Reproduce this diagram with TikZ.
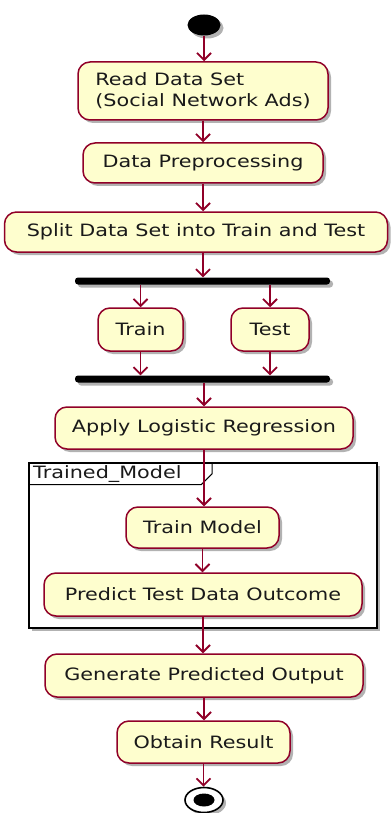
\documentclass[tikz,border=0pt]{standalone}
\usepackage{fontspec}
\setmainfont{DejaVu Sans}
\usepackage{graphicx}
\usetikzlibrary{arrows.meta,shadows,shapes.geometric}
\definecolor{umlfill}{HTML}{FEFECE}
\definecolor{umlline}{HTML}{900028}
\definecolor{umltext}{HTML}{1A1A1A}
\newcommand{\wt}[1]{\scalebox{1.22}[1]{#1}}
\begin{document}
\begin{tikzpicture}[x=1pt,y=-1pt,
  shd/.style={drop shadow={shadow xshift=3pt,shadow yshift=-3pt,opacity=0.3,fill=black}},
  act/.style={draw=umlline,fill=umlfill,line width=1.5pt,rounded corners=12pt,inner sep=0pt,
    font=\fontsize{17}{21}\selectfont,text=umltext,shd},
  bar/.style={fill=black,rectangle,minimum height=7pt,inner sep=0pt,rounded corners=3pt,shd},
  flow/.style={draw=umlline,line width=1.8pt,-{Straight Barb[length=7pt,width=14pt,line width=1.8pt]}},
  lbl/.style={font=\fontsize{17}{21}\selectfont,text=umltext,inner sep=0pt}]
\useasboundingbox (0,0) rectangle (391,813);

\node[fill=black,ellipse,minimum width=33pt,minimum height=21pt,inner sep=0pt,shd] (start) at (204,25) {};

\node[act,minimum width=250pt,minimum height=58pt,align=left] (r1) at (203,91) {\wt{Read Data Set}\\\wt{(Social Network Ads)}};
\node[act,minimum width=240pt,minimum height=40pt] (r2) at (203,163) {\wt{Data Preprocessing}};
\node[act,minimum width=383pt,minimum height=40pt] (r3) at (196,232) {\wt{Split Data Set into Train and Test}};

\node[bar,minimum width=255pt] (b1) at (202.5,281) {};
\node[act,minimum width=85pt,minimum height=43pt] (tr) at (140.5,329.5) {\wt{Train}};
\node[act,minimum width=78pt,minimum height=43pt] (te) at (270,329.5) {\wt{Test}};
\node[bar,minimum width=255pt] (b2) at (202.5,379) {};

\node[act,minimum width=298pt,minimum height=42pt] (lr) at (204,428) {\wt{Apply Logistic Regression}};

\node[draw=black,fill=white,line width=2.6pt,minimum width=348pt,minimum height=165pt,inner sep=0pt,shd] (fr) at (203,545.5) {};
\draw[line width=1pt] (fr.north west) ++(1.5,23) -- ++(172,0) -- ++(11,-11) -- ++(0,-11);
\node[lbl,anchor=west] (frl) at (33,474) {\wt{Trained\_Model}};

\node[act,minimum width=153pt,minimum height=41pt] (tm) at (202.5,527.5) {\wt{Train Model}};
\node[act,minimum width=318pt,minimum height=43pt] (pr) at (203,594.5) {\wt{Predict Test Data Outcome}};
\node[act,minimum width=318pt,minimum height=43pt] (ge) at (204,675.5) {\wt{Generate Predicted Output}};
\node[act,minimum width=173pt,minimum height=42pt] (ob) at (203.5,742) {\wt{Obtain Result}};

\node[draw=black,fill=white,line width=1.6pt,ellipse,minimum width=38pt,minimum height=25pt,inner sep=0pt,shd] (en) at (204,800) {};
\node[fill=black,ellipse,minimum width=21pt,minimum height=13pt,inner sep=0pt] (eni) at (en.center) {};

\draw[flow] (start) -- (start.south |- r1.north);
\draw[flow] (r1.south) -- (r1.south |- r2.north);
\draw[flow] (r2.south) -- (r2.south |- r3.north);
\draw[flow] (r3.south -| r2.south) -- (r2.south |- b1.north);
\draw[flow] (b1.south -| tr) -- (tr.north);
\draw[flow] (b1.south -| te) -- (te.north);
\draw[flow] (tr.south) -- (tr.south |- b2.north);
\draw[flow] (te.south) -- (te.south |- b2.north);
\draw[flow] (b2.south -| lr) -- (lr.north);
\draw[flow] (lr.south) -- (lr.south |- tm.north);
\draw[flow] (tm.south) -- (tm.south |- pr.north);
\draw[flow] (pr.south) -- (pr.south |- ge.north);
\draw[flow] (ge.south) -- (ge.south |- ob.north);
\draw[flow] (ob.south) -- (ob.south |- en.north);
\end{tikzpicture}
\end{document}
